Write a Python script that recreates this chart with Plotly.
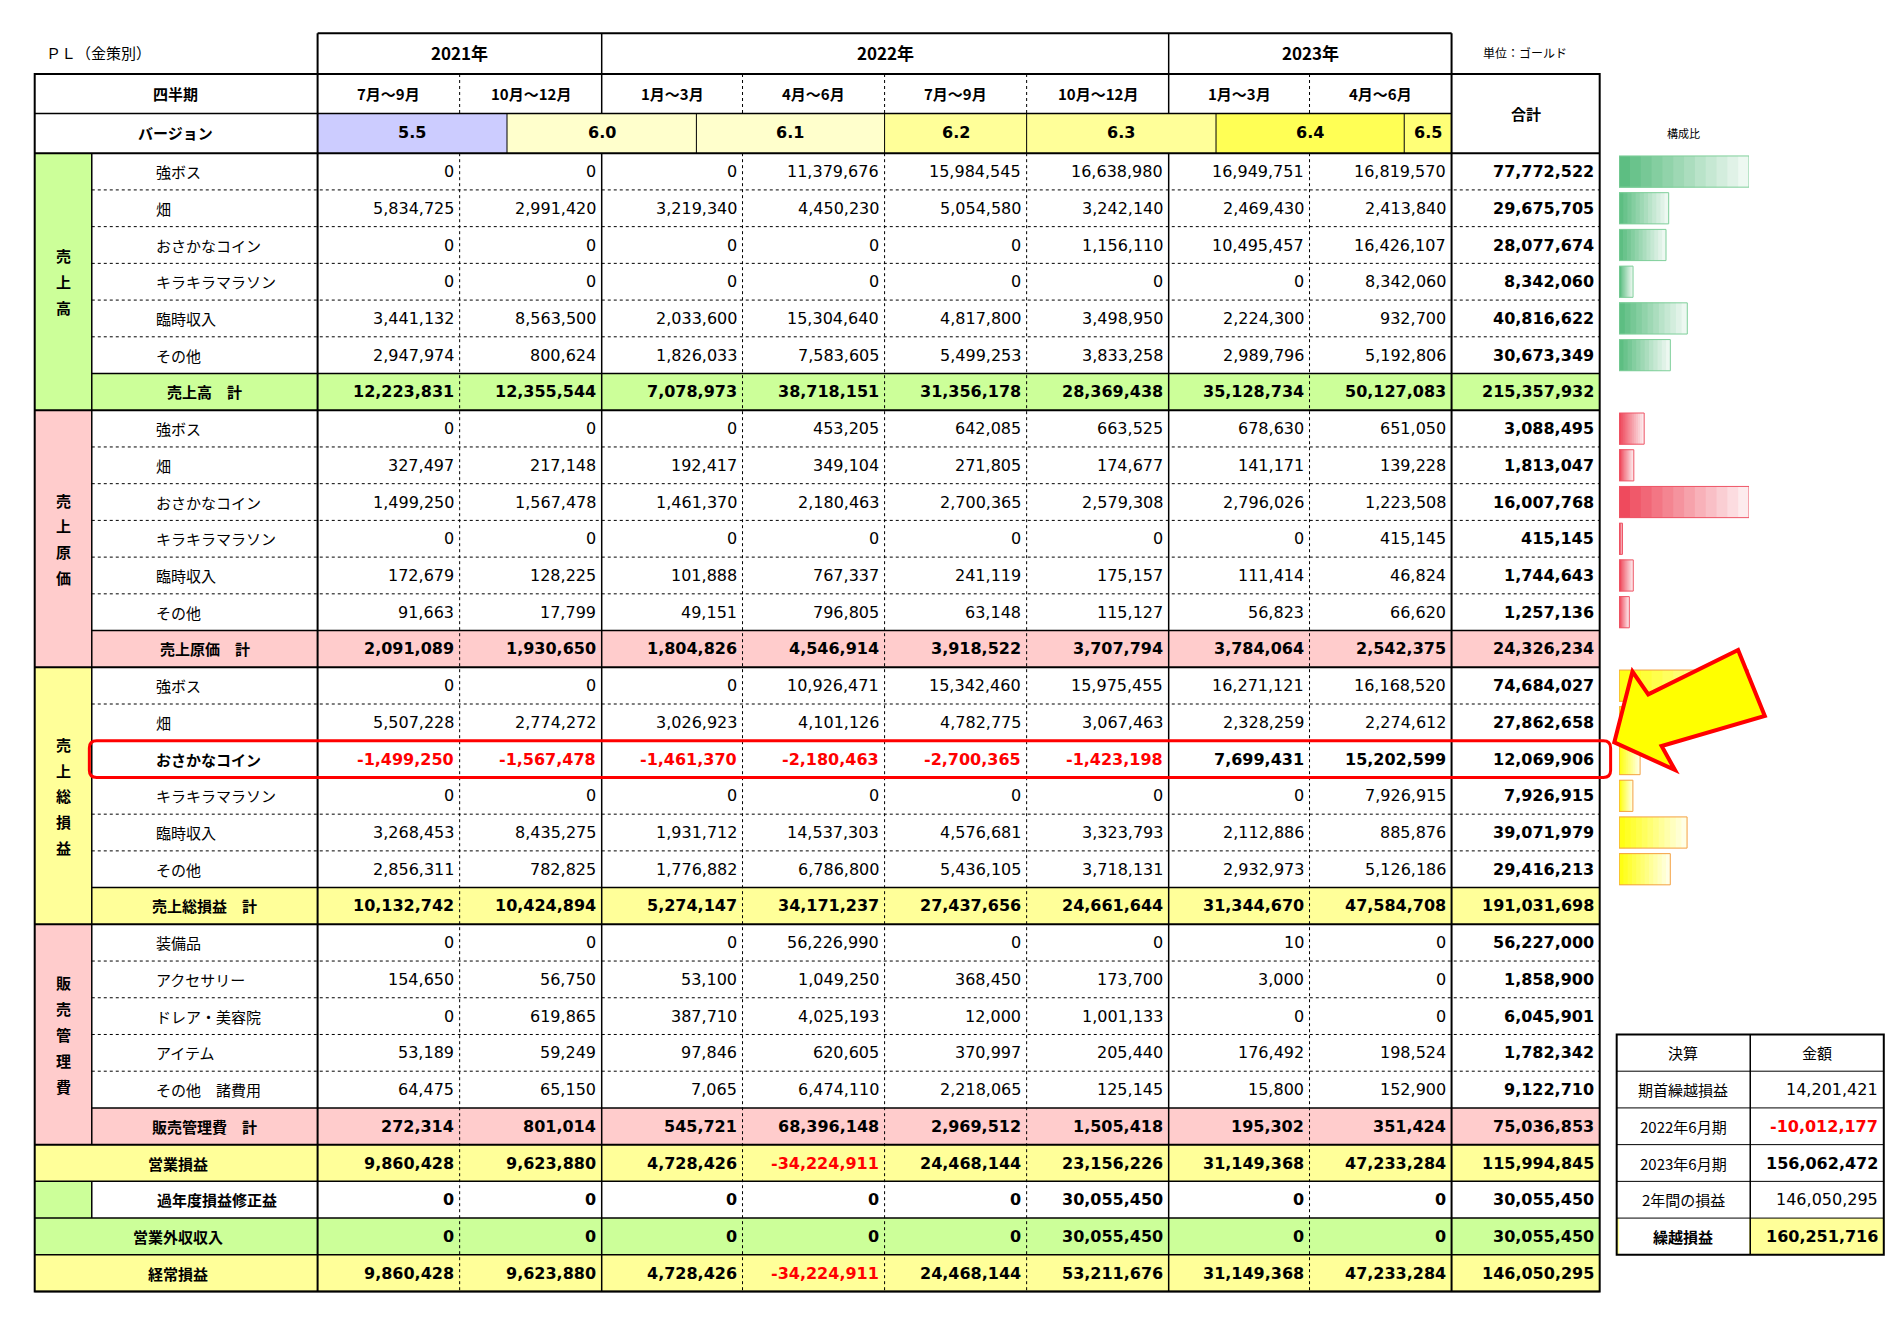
import plotly.graph_objects as go

years = ["2021年", "2022年", "2023年"]
year_spans = [2, 4, 2]
quarters = ["7月～9月", "10月～12月", "1月～3月", "4月～6月", "7月～9月", "10月～12月", "1月～3月", "4月～6月"]
versions = ["5.5", "6.0", "6.1", "6.2", "6.3", "6.4", "6.5"]

sales_items = ["強ボス", "畑", "おさかなコイン", "キラキラマラソン", "臨時収入", "その他"]
sales = [
    [0, 0, 0, 11379676, 15984545, 16638980, 16949751, 16819570],
    [5834725, 2991420, 3219340, 4450230, 5054580, 3242140, 2469430, 2413840],
    [0, 0, 0, 0, 0, 1156110, 10495457, 16426107],
    [0, 0, 0, 0, 0, 0, 0, 8342060],
    [3441132, 8563500, 2033600, 15304640, 4817800, 3498950, 2224300, 932700],
    [2947974, 800624, 1826033, 7583605, 5499253, 3833258, 2989796, 5192806],
]
sales_total = [12223831, 12355544, 7078973, 38718151, 31356178, 28369438, 35128734, 50127083]
sales_sum = [77772522, 29675705, 28077674, 8342060, 40816622, 30673349]
sales_grand = 215357932

cost = [
    [0, 0, 0, 453205, 642085, 663525, 678630, 651050],
    [327497, 217148, 192417, 349104, 271805, 174677, 141171, 139228],
    [1499250, 1567478, 1461370, 2180463, 2700365, 2579308, 2796026, 1223508],
    [0, 0, 0, 0, 0, 0, 0, 415145],
    [172679, 128225, 101888, 767337, 241119, 175157, 111414, 46824],
    [91663, 17799, 49151, 796805, 63148, 115127, 56823, 66620],
]
cost_total = [2091089, 1930650, 1804826, 4546914, 3918522, 3707794, 3784064, 2542375]
cost_sum = [3088495, 1813047, 16007768, 415145, 1744643, 1257136]
cost_grand = 24326234

gross = [
    [0, 0, 0, 10926471, 15342460, 15975455, 16271121, 16168520],
    [5507228, 2774272, 3026923, 4101126, 4782775, 3067463, 2328259, 2274612],
    [-1499250, -1567478, -1461370, -2180463, -2700365, -1423198, 7699431, 15202599],
    [0, 0, 0, 0, 0, 0, 0, 7926915],
    [3268453, 8435275, 1931712, 14537303, 4576681, 3323793, 2112886, 885876],
    [2856311, 782825, 1776882, 6786800, 5436105, 3718131, 2932973, 5126186],
]
gross_total = [10132742, 10424894, 5274147, 34171237, 27437656, 24661644, 31344670, 47584708]
gross_sum = [74684027, 27862658, 12069906, 7926915, 39071979, 29416213]
gross_grand = 191031698

sga_items = ["装備品", "アクセサリー", "ドレア・美容院", "アイテム", "その他　諸費用"]
sga = [
    [0, 0, 0, 56226990, 0, 0, 10, 0],
    [154650, 56750, 53100, 1049250, 368450, 173700, 3000, 0],
    [0, 619865, 387710, 4025193, 12000, 1001133, 0, 0],
    [53189, 59249, 97846, 620605, 370997, 205440, 176492, 198524],
    [64475, 65150, 7065, 6474110, 2218065, 125145, 15800, 152900],
]
sga_total = [272314, 801014, 545721, 68396148, 2969512, 1505418, 195302, 351424]
sga_sum = [56227000, 1858900, 6045901, 1782342, 9122710]
sga_grand = 75036853

op_profit = [9860428, 9623880, 4728426, -34224911, 24468144, 23156226, 31149368, 47233284]
op_grand = 115994845
prior_adj = [0, 0, 0, 0, 0, 30055450, 0, 0]
prior_grand = 30055450
nonop = [0, 0, 0, 0, 0, 30055450, 0, 0]
nonop_grand = 30055450
ordinary = [9860428, 9623880, 4728426, -34224911, 24468144, 53211676, 31149368, 47233284]
ordinary_grand = 146050295

settle_labels = ["期首繰越損益", "2022年6月期", "2023年6月期", "2年間の損益", "繰越損益"]
settle_values = [14201421, -10012177, 156062472, 146050295, 160251716]

# ---- layout helpers (coords in a 1560x1100 sheet) ----
GREEN, PINK, YELLOW = "#ccff99", "#ffcccc", "#ffff99"
JP = "Noto Sans CJK JP"
NUM = "DejaVu Sans"
ROW0, RH = 121, 30.6
col_x = [255, 372, 489, 605, 722, 839, 956, 1072, 1189]
SUM_R = 1311

shapes, annos = [], []


def rect(x0, y0, x1, y1, fill, lw=0, lc="black"):
    shapes.append(dict(type="rect", x0=x0, y0=y0, x1=x1, y1=y1, fillcolor=fill,
                       line=dict(width=lw, color=lc), layer="below"))


def line(x0, y0, x1, y1, w=1, dash="solid"):
    shapes.append(dict(type="line", x0=x0, y0=y0, x1=x1, y1=y1,
                       line=dict(width=w, color="black", dash=dash)))


def txt(x, y, s, size=16, bold=False, color="black", anchor="center", font=JP):
    if bold:
        s = "<b>" + s + "</b>"
    annos.append(dict(x=x, y=y, text=s, showarrow=False, xanchor=anchor, yanchor="middle",
                      font=dict(size=size, color=color, family=font)))


def fmt(v):
    return f"{v:,}"


def num(x, y, v, bold=False):
    txt(x, y, fmt(v), 16, bold, "red" if v < 0 else "black", "right", NUM)


def ry(i):
    return ROW0 + RH * i


# headers
txt(30, 37, "ＰＬ（金策別）", 15, anchor="left")
txt(1213, 37, "単位：ゴールド", 12, anchor="left")
txt(1380, 104, "構成比", 11)
k = 0
for yname, span in zip(years, year_spans):
    txt((col_x[k] + col_x[k + span]) / 2, 37, yname, 17, True)
    k += span
txt(138, 71, "四半期", 15, True)
txt(138, 104, "バージョン", 15, True)
for i, q in enumerate(quarters):
    txt((col_x[i] + col_x[i + 1]) / 2, 71, q, 15, True)
txt(1250, 88, "合計", 15, True)
ver_x = [255, 411, 567, 722, 839, 995, 1150, 1189]
ver_fill = ["#ccccff", "#ffffcc", "#ffffcc", "#ffff99", "#ffff99", "#ffff55", "#ffff77"]
for i, v in enumerate(versions):
    rect(ver_x[i], 88, ver_x[i + 1], 121, ver_fill[i])
    txt((ver_x[i] + ver_x[i + 1]) / 2, 104, v, 16, True, font=NUM)
    if i > 0:
        line(ver_x[i], 88, ver_x[i], 121, 1)

# body
groups = [
    ("売上高", sales_items, sales, sales_total, sales_sum, sales_grand, GREEN, "売上高　計"),
    ("売上原価", sales_items, cost, cost_total, cost_sum, cost_grand, PINK, "売上原価　計"),
    ("売上総損益", sales_items, gross, gross_total, gross_sum, gross_grand, YELLOW, "売上総損益　計"),
    ("販売管理費", sga_items, sga, sga_total, sga_sum, sga_grand, PINK, "販売管理費　計"),
]
bar_rows = []
r = 0
for gname, items, vals, tot, sums, grand, color, tlabel in groups:
    top = ry(r)
    n = len(items)
    rect(22, top, 69, ry(r + n + 1), color)
    mid = (top + ry(r + n + 1)) / 2
    for j, ch in enumerate(gname):
        txt(46, mid + (j - (len(gname) - 1) / 2) * 21.5, ch, 15, True)
    for j, it in enumerate(items):
        yc = ry(r + j) + RH / 2
        bold_row = gname == "売上総損益" and j == 2
        txt(120, yc, it, 15, bold_row, anchor="left")
        for c in range(8):
            num(col_x[c + 1] - 3, yc, vals[j][c], bold_row)
        num(SUM_R - 3, yc, sums[j], True)
        if j > 0:
            line(69, ry(r + j), SUM_R, ry(r + j), 1, "dot")
        if gname != "販売管理費":
            bar_rows.append((yc, sums[j] / max(sums), gname))
    tr = r + n
    rect(69, ry(tr), SUM_R, ry(tr + 1), color)
    yc = ry(tr) + RH / 2
    txt(162, yc, tlabel, 15, True)
    for c in range(8):
        num(col_x[c + 1] - 3, yc, tot[c], True)
    num(SUM_R - 3, yc, grand, True)
    line(69, ry(tr), SUM_R, ry(tr), 1.5)
    line(22, ry(tr + 1), SUM_R, ry(tr + 1), 2)
    line(69, top, 69, ry(tr + 1), 1.5)
    r = tr + 1

bottom = [
    ("営業損益", op_profit, op_grand, YELLOW, YELLOW),
    ("過年度損益修正益", prior_adj, prior_grand, "white", GREEN),
    ("営業外収収入", nonop, nonop_grand, GREEN, GREEN),
    ("経常損益", ordinary, ordinary_grand, YELLOW, YELLOW),
]
for lab, vals, grand, fill, side in bottom:
    rect(22, ry(r), SUM_R, ry(r + 1), fill)
    yc = ry(r) + RH / 2
    if side != fill:
        rect(22, ry(r), 69, ry(r + 1), side)
        line(69, ry(r), 69, ry(r + 1), 1.5)
        txt(172, yc, lab, 15, True)
    else:
        txt(140, yc, lab, 15, True)
    for c in range(8):
        num(col_x[c + 1] - 3, yc, vals[c], True)
    num(SUM_R - 3, yc, grand, True)
    line(22, ry(r + 1), SUM_R, ry(r + 1), 1.5)
    r += 1

# grid lines
for i, x in enumerate(col_x[1:-1], start=1):
    solid = x in (489, 956)
    line(x, 21 if solid else 55, x, 88, 1.5 if solid else 1, "solid" if solid else "dot")
    line(x, 121, x, ry(r), 1.5 if solid else 1, "solid" if solid else "dot")
line(255, 21, 1189, 21, 2)
line(255, 21, 255, ry(r), 2)
line(1189, 21, 1189, ry(r), 2)
line(22, 88, 1189, 88, 1.5)
line(22, 121, SUM_R, 121, 2)
shapes.append(dict(type="rect", x0=22, y0=55, x1=SUM_R, y1=ry(r), line=dict(width=2, color="black")))

# settlement table
sx = [1325, 1435, 1545]
rect(sx[0], ry(29), sx[2], ry(30), YELLOW)
txt(1380, ry(24) + RH / 2, "決算", 15)
txt(1490, ry(24) + RH / 2, "金額", 15)
for i, (lab, v) in enumerate(zip(settle_labels, settle_values)):
    yc = ry(25 + i) + RH / 2
    b = i in (1, 2, 4)
    txt(1380, yc, lab, 15, i == 4)
    num(1542, yc, v, b)
for i in range(1, 6):
    line(sx[0], ry(24 + i), sx[2], ry(24 + i), 1)
line(1435, ry(24), 1435, ry(30), 1.5)
shapes.append(dict(type="rect", x0=sx[0], y0=ry(24), x1=sx[2], y1=ry(30), line=dict(width=2, color="black")))

# highlight box + arrow
hy = ry(16)
shapes.append(dict(type="path", line=dict(color="red", width=3),
                   path=f"M 73 {hy} L {SUM_R+3} {hy} Q {SUM_R+9} {hy} {SUM_R+9} {hy+6} L {SUM_R+9} {hy+RH-6} "
                        f"Q {SUM_R+9} {hy+RH} {SUM_R+3} {hy+RH} L 73 {hy+RH} Q 67 {hy+RH} 67 {hy+RH-6} "
                        f"L 67 {hy+6} Q 67 {hy} 73 {hy} Z"))

fig = go.Figure()
# invisible anchor trace so the sheet axis is drawn
fig.add_trace(go.Scatter(x=[0, 1560], y=[0, 1100], mode="markers", marker=dict(opacity=0),
                         hoverinfo="skip", showlegend=False))

# 構成比 bars, faked gradient with stacked overlays
base_col = {"売上高": (80, 185, 120), "売上原価": (238, 60, 80), "売上総損益": (255, 255, 0)}
edge_col = {"売上高": "#7fcf9a", "売上原価": "#ee5566", "売上総損益": "#f4a040"}
N = 12
for g in base_col:
    ys = [b[0] for b in bar_rows if b[2] == g]
    xs = [b[1] for b in bar_rows if b[2] == g]
    for k in range(N):
        f = (N - k) / N
        t = f * 0.9
        rc = tuple(int(c + (255 - c) * t) for c in base_col[g])
        fig.add_trace(go.Bar(y=ys, x=[x * f for x in xs], orientation="h", width=26,
                             xaxis="x2", marker=dict(color=f"rgb{rc}", line=dict(width=0)),
                             hoverinfo="skip", showlegend=False))
    fig.add_trace(go.Bar(y=ys, x=xs, orientation="h", width=26, xaxis="x2",
                         marker=dict(color="rgba(0,0,0,0)", line=dict(width=1, color=edge_col[g])),
                         hoverinfo="skip", showlegend=False))

shapes.append(dict(type="path", fillcolor="#ffff00", line=dict(color="red", width=4), layer="above",
                   path="M 1323 612 L 1338 553 L 1351 572 L 1425 535 L 1447 590 L 1362 615 L 1373 635 Z"))

fig.update_layout(
    width=1894, height=1320, margin=dict(l=0, r=0, t=0, b=0),
    plot_bgcolor="white", paper_bgcolor="white", barmode="overlay",
    xaxis=dict(range=[0, 1560], visible=False, domain=[0, 1]),
    xaxis2=dict(range=[0, 1], domain=[1327 / 1560, 1434 / 1560], anchor="y", visible=False),
    yaxis=dict(range=[1100, 0], visible=False),
    shapes=shapes, annotations=annos,
)
fig.write_html("out.html")
